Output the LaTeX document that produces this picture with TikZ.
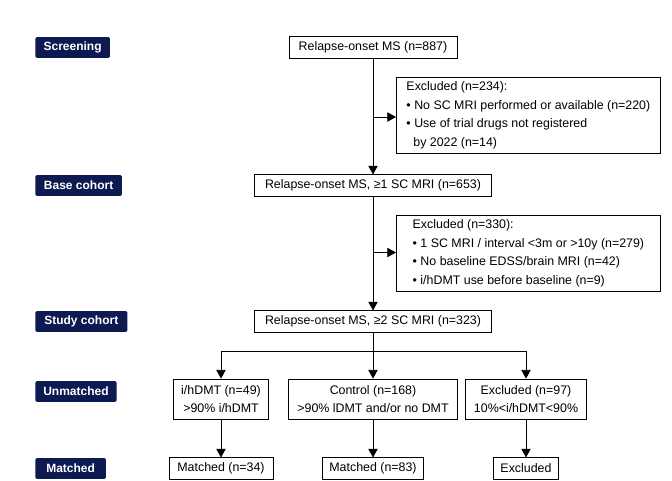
\documentclass[tikz,border=0pt]{standalone}
\usepackage{fontspec}
\setmainfont{Liberation Sans}
\usetikzlibrary{arrows.meta}
\usetikzlibrary{calc}
\definecolor{navy}{HTML}{0D1A52}
\tikzset{
  stage/.style={fill=navy,text=white,font=\fontsize{9}{11}\selectfont\bfseries,anchor=west,inner sep=2.5pt,minimum height=15.5pt,rounded corners=1pt},
  box/.style={draw=black,line width=0.6pt,fill=white,font=\fontsize{9.3}{11}\selectfont,inner sep=3pt,minimum height=16pt},
  flow/.style={line width=0.6pt,-{Triangle[length=6.5pt,width=7pt]}}
}
\begin{document}
\begin{tikzpicture}[x=0.75pt,y=-0.75pt]
\useasboundingbox (0,0) rectangle (672,480);
% stage labels
\node[stage,minimum width=56pt] (s1) at (35,47.5) {Screening};
\node[stage,minimum width=65pt] (s2) at (35,185.5) {Base cohort};
\node[stage,minimum width=69pt] (s3) at (35,321.5) {Study cohort};
\node[stage,minimum width=61pt] (s4) at (35,391.5) {Unmatched};
\node[stage,minimum width=53pt] (s5) at (35,468.5) {Matched};
% main flow
\node[box,minimum width=126pt] (screen) at (373,47.5) {Relapse-onset MS (n=887)};
\node[box,minimum width=178pt] (base) at (373,185.5) {Relapse-onset MS, ≥1 SC MRI (n=653)};
\node[box,minimum width=178pt] (study) at (373,321.5) {Relapse-onset MS, ≥2 SC MRI (n=323)};
\node[box,align=left,anchor=north west,minimum width=198pt,font=\fontsize{9.3}{14}\selectfont] (exc1) at (396,77)
  {Excluded (n=234):\\ • No SC MRI performed or available (n=220)\\ • Use of trial drugs not registered\\ \ \ by 2022 (n=14)};
\node[box,align=left,anchor=north west,minimum width=198pt,font=\fontsize{9.3}{14}\selectfont] (exc2) at (396,215)
  {Excluded (n=330):\\ • 1 SC MRI / interval <3m or >10y (n=279)\\ • No baseline EDSS/brain MRI (n=42)\\ • i/hDMT use before baseline (n=9)};
% branches
\node[box,align=center,minimum width=71pt,minimum height=30pt,font=\fontsize{9.3}{14}\selectfont] (hdmt) at (221,399) {i/hDMT (n=49)\\ >90\% i/hDMT};
\node[box,align=center,minimum width=127pt,minimum height=30pt,font=\fontsize{9.3}{14}\selectfont] (ctrl) at (373,399) {Control (n=168)\\ >90\% lDMT and/or no DMT};
\node[box,align=center,minimum width=91pt,minimum height=30pt,font=\fontsize{9.3}{14}\selectfont] (excl) at (526,399) {Excluded (n=97)\\ 10\%<i/hDMT<90\%};
\node[box,minimum width=78pt] (m1) at (221,468.5) {Matched (n=34)};
\node[box,minimum width=76pt] (m2) at (373,468.5) {Matched (n=83)};
\node[box,minimum width=49pt] (m3) at (526,468.5) {Excluded};
% connectors
\draw[flow] (screen) -- (base);
\draw[flow] (base) -- (study);
\coordinate (tap1) at (373,117);
\coordinate (tap2) at (373,252.5);
\draw[flow] (tap1) -- (tap1 -| exc1.west);
\draw[flow] (tap2) -- (tap2 -| exc2.west);
\coordinate (split) at (373,351);
\draw[line width=0.6pt] (study) -- (split);
\draw[flow] (split) -- (ctrl);
\draw[flow] (split) -| (hdmt);
\draw[flow] (split) -| (excl);
\draw[flow] (hdmt) -- (m1);
\draw[flow] (ctrl) -- (m2);
\draw[flow] (excl) -- (m3);
\end{tikzpicture}
\end{document}
